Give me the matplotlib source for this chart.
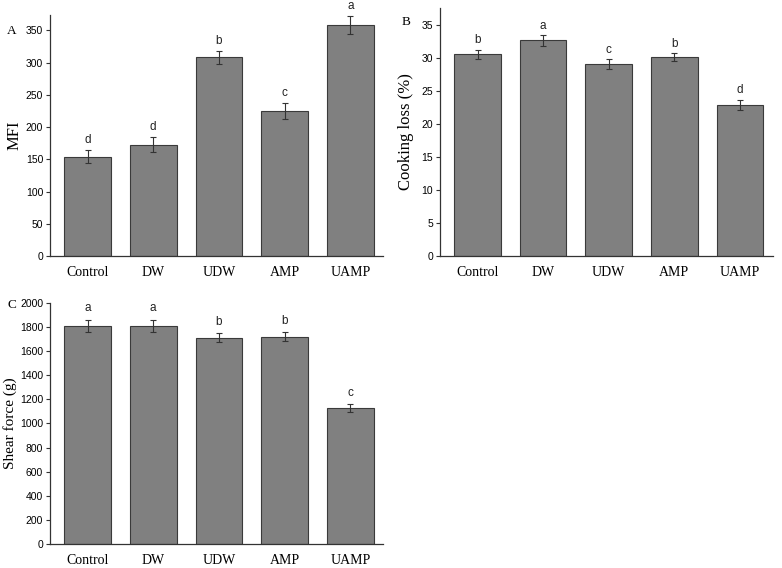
import matplotlib
matplotlib.use("Agg")
import matplotlib.pyplot as plt
import matplotlib.transforms as mtransforms
import numpy as np

# Treatments
groups = ["Control", "DW", "UDW", "AMP", "UAMP"]

# A - MFI
mfi = [154, 173, 308, 225, 358]
mfi_err = [10, 12, 10, 12, 14]
mfi_sig = ["d", "d", "b", "c", "a"]

# B - cooking loss (%)
cook = [30.6, 32.7, 29.1, 30.2, 22.9]
cook_err = [0.7, 0.8, 0.7, 0.6, 0.8]
cook_sig = ["b", "a", "c", "b", "d"]

# C - shear force (g)
shear = [1808, 1808, 1710, 1718, 1128]
shear_err = [50, 50, 38, 38, 30]
shear_sig = ["a", "a", "b", "b", "c"]

serif = "Liberation Serif"
sans = "Liberation Sans"
axis_col = "#333333"
W, H = 782, 568


def panel(ax, vals, errs, sigs, ylabel, ylim, yticks, pad, lab_x, lab_size):
    x = np.arange(len(groups))
    ax.bar(x, vals, width=0.71, color="#808080", edgecolor="#3a3a3a", linewidth=0.8)
    ax.errorbar(x, vals, yerr=errs, fmt="none", ecolor="#333333",
                elinewidth=0.8, capsize=2.3, capthick=0.8)
    for xi, v, e, s in zip(x, vals, errs, sigs):
        ax.text(xi, v + e + pad, s, ha="center", va="bottom",
                fontsize=8.5, family=sans, color="#222222")
    ax.set_xlim(-0.57, 4.5)
    ax.set_ylim(*ylim)
    ax.set_yticks(yticks)
    ax.set_xticks(x)
    ax.set_xticklabels(groups, family=serif, fontsize=10)
    for lab in ax.get_yticklabels():
        lab.set_family(sans)
        lab.set_fontsize(7.5)
    ax.tick_params(axis="x", length=0, pad=7)
    ax.tick_params(axis="y", length=3, width=0.8, color=axis_col, pad=2)
    ax.spines["top"].set_visible(False)
    ax.spines["right"].set_visible(False)
    for sp in ["left", "bottom"]:
        ax.spines[sp].set_color(axis_col)
        ax.spines[sp].set_linewidth(0.9)
    ax.set_ylabel(ylabel, family=serif, fontsize=lab_size)
    tr = mtransforms.blended_transform_factory(ax.figure.transFigure, ax.transAxes)
    ax.yaxis.set_label_coords(lab_x / W, 0.5, transform=tr)


fig = plt.figure(figsize=(7.82, 5.68), dpi=100)

axA = fig.add_axes([0.064, 0.549, 0.426, 0.425])
panel(axA, mfi, mfi_err, mfi_sig, "MFI", (0, 374), range(0, 351, 50), 6, 23, 12)

axB = fig.add_axes([0.563, 0.549, 0.425, 0.437])
panel(axB, cook, cook_err, cook_sig, "Cooking loss (%)", (0, 37.6), range(0, 36, 5), 0.5, 414, 12)

axC = fig.add_axes([0.064, 0.042, 0.426, 0.425])
panel(axC, shear, shear_err, shear_sig, "Shear force (g)", (0, 2000), range(0, 2001, 200), 45, 17, 11)

fig.text(12 / W, 1 - 31 / H, "A", family=serif, fontsize=9.5, va="center", ha="center")
fig.text(406 / W, 1 - 22 / H, "B", family=serif, fontsize=9.5, va="center", ha="center")
fig.text(12 / W, 1 - 305 / H, "C", family=serif, fontsize=9.5, va="center", ha="center")

fig.savefig("out.png", dpi=100)
